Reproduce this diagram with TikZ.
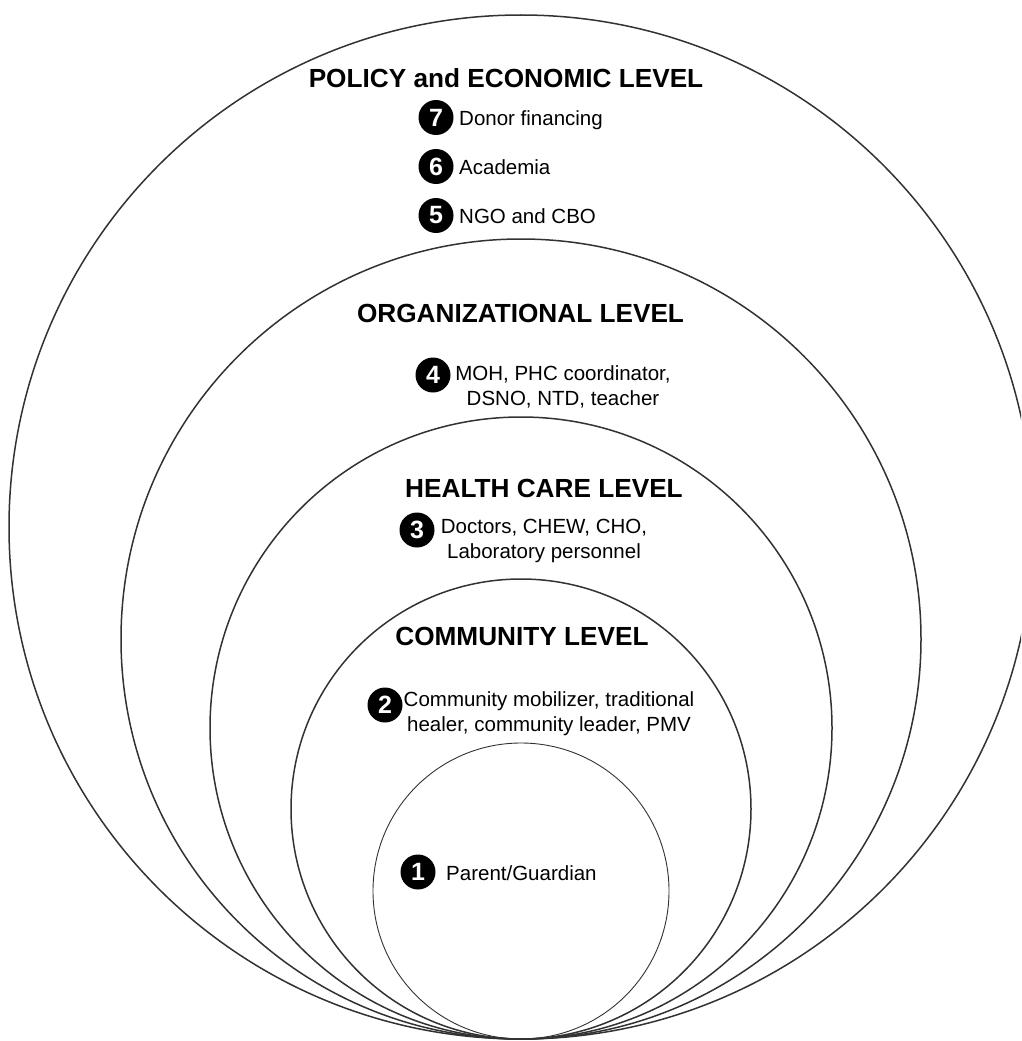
\documentclass[tikz,border=0pt]{standalone}
\usepackage{fontspec}
\setmainfont{Liberation Sans}
\definecolor{ringcol}{RGB}{50,50,50}
\tikzset{
  ring/.style={draw=ringcol, line width=1.5pt},
  innerring/.style={draw=ringcol, line width=0.9pt},
  title/.style={font=\fontsize{26.2}{30}\selectfont\bfseries, inner sep=0pt, anchor=base},
  badge/.style={circle, fill=black, text=white, minimum size=35pt, inner sep=0pt,
     font=\fontsize{25}{25}\selectfont\bfseries},
  item/.style={font=\fontsize{20.5}{24}\selectfont, inner sep=0pt, anchor=base west},
  item2/.style={font=\fontsize{20.5}{24.5}\selectfont, inner sep=0pt, align=center, anchor=base},
}
\begin{document}
\begin{tikzpicture}[x=1pt, y=-1pt]
\useasboundingbox (0,0) rectangle (1021,1041);
\clip (0,0) rectangle (1021,1041);
% nested rings, all tangent at the bottom
\draw[ring] (521,527) circle[radius=512];
\draw[ring] (521,639) circle[radius=400];
\draw[ring] (521,728) circle[radius=311];
\draw[ring] (521,809) circle[radius=230];
\draw[innerring] (521,891) circle[radius=148];
% policy and economic level
\node[title] (tpol) at (506,87) {POLICY and ECONOMIC LEVEL};
\node[badge] (b7) at (436,117.5) {7};
\node[item] (t7) at (459,125) {Donor financing};
\node[badge] (b6) at (436,166.5) {6};
\node[item] (t6) at (459,174) {Academia};
\node[badge] (b5) at (436,215.5) {5};
\node[item] (t5) at (459,223) {NGO and CBO};
% organizational level
\node[title] (torg) at (520.5,322) {ORGANIZATIONAL LEVEL};
\node[badge] (b4) at (433,375) {4};
\node[item2] (t4) at (563,405) {MOH, PHC coordinator,\\DSNO, NTD, teacher};
% health care level
\node[title] (thc) at (544,497) {HEALTH CARE LEVEL};
\node[badge] (b3) at (417,530) {3};
\node[item2] (t3) at (544,558) {Doctors, CHEW, CHO,\\Laboratory personnel};
% community level
\node[title] (tcom) at (522,645) {COMMUNITY LEVEL};
\node[badge] (b2) at (385,705) {2};
\node[item2] (t2) at (549,731) {Community mobilizer, traditional\\healer, community leader, PMV};
% individual
\node[badge] (b1) at (418,872) {1};
\node[item] (t1) at (446,880) {Parent/Guardian};
\end{tikzpicture}
\end{document}
